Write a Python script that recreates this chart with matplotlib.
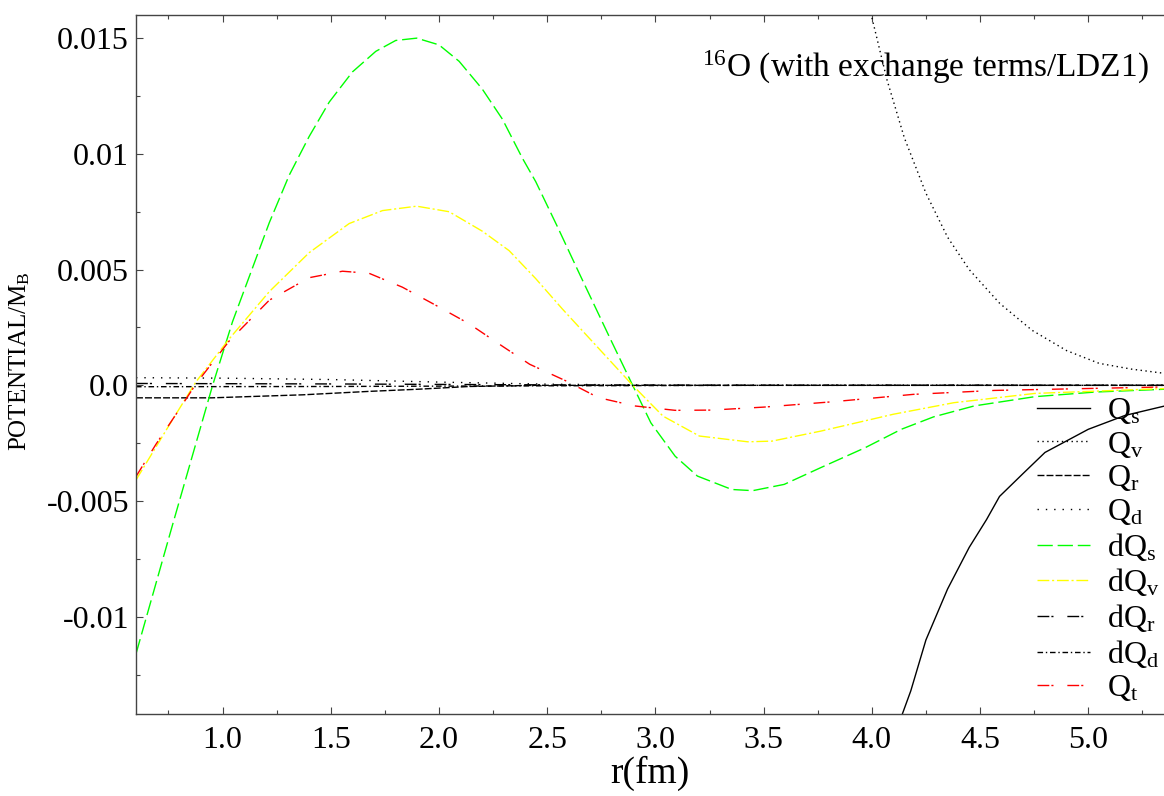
import matplotlib
matplotlib.use('Agg')
import matplotlib.pyplot as plt

plt.rcParams['font.family'] = ['Liberation Serif', 'DejaVu Serif']
plt.rcParams['mathtext.fontset'] = 'custom'
plt.rcParams['mathtext.rm'] = 'Liberation Serif'
plt.rcParams['mathtext.it'] = 'Liberation Serif:italic'

# values
dqs_x = [0.60, 0.77, 0.954, 1.046, 1.216, 1.308, 1.40, 1.493, 1.60, 1.708, 1.80, 1.897, 2.00, 2.093, 2.20,
         2.293, 2.385, 2.447, 2.55, 2.65, 2.792, 2.895, 2.979, 3.091, 3.194, 3.353, 3.45, 3.595, 3.763,
         3.968, 4.136, 4.286, 4.473, 4.753, 5.032, 5.35]
dqs_y = [-0.01160, -0.00599, 0.0, 0.00275, 0.00703, 0.00908, 0.01075, 0.01224, 0.01354, 0.01443, 0.01490,
         0.01500, 0.01471, 0.01400, 0.01280, 0.01150, 0.00982, 0.00880, 0.00680, 0.00480, 0.00200, 0.0,
         -0.00162, -0.00306, -0.00392, -0.00450, -0.00455, -0.00428, -0.00356, -0.00270, -0.00190,
         -0.00136, -0.00089, -0.00049, -0.00029, -0.00017]

dqv_x = [0.60, 0.754, 0.877, 1.031, 1.216, 1.40, 1.585, 1.739, 1.897, 2.047, 2.20, 2.324, 2.447, 2.57,
         2.699, 2.895, 3.035, 3.203, 3.427, 3.539, 3.763, 4.099, 4.379, 4.753, 5.35]
dqv_y = [-0.00409, -0.00171, 0.00015, 0.00201, 0.00405, 0.00573, 0.00699, 0.00755, 0.00774, 0.00750,
         0.00666, 0.00582, 0.00461, 0.00330, 0.00199, 0.0, -0.00133, -0.00219, -0.00244, -0.00241,
         -0.00198, -0.00125, -0.00075, -0.00035, -0.00014]

qt_x = [0.60, 0.692, 0.785, 0.877, 1.031, 1.216, 1.40, 1.554, 1.677, 1.831, 1.985, 2.139, 2.293, 2.419,
        2.587, 2.736, 2.904, 3.091, 3.259, 3.502, 3.819, 4.192, 4.566, 5.35]
qt_y = [-0.00394, -0.00255, -0.00125, 0.00006, 0.00192, 0.00368, 0.00465, 0.00493, 0.00484, 0.00424,
        0.00346, 0.00266, 0.00169, 0.00091, 0.00019, -0.00053, -0.00089, -0.00108, -0.00107, -0.00094,
        -0.00071, -0.00039, -0.00022, -0.00007]

qv_x = [3.90, 4.00, 4.07, 4.15, 4.25, 4.35, 4.45, 4.59, 4.74, 4.90, 5.05, 5.20, 5.35]
qv_y = [0.0195, 0.0159, 0.0132, 0.0107, 0.0083, 0.0064, 0.0050, 0.00355, 0.00238, 0.0015, 0.00095,
        0.0007, 0.00052]

qs_x = [4.10, 4.141, 4.18, 4.25, 4.35, 4.45, 4.53, 4.59, 4.70, 4.80, 5.00, 5.17, 5.35]
qs_y = [-0.0158, -0.0142, -0.0132, -0.0110, -0.0088, -0.0070, -0.0058, -0.0048, -0.0038, -0.0029,
        -0.0019, -0.0013, -0.0009]

qr_x = [0.60, 0.95, 1.37, 1.68, 1.90, 2.14, 2.45, 3.0, 5.35]
qr_y = [-0.00054, -0.00054, -0.00041, -0.00026, -0.00017, -0.00005, 0.0, 0.0, 0.0]

qd_x = [0.60, 1.0, 1.5, 2.0, 2.5, 3.0, 5.35]
qd_y = [0.00033, 0.00031, 0.00025, 0.00014, 0.00005, 0.00001, 0.0]

dqr_x = [0.60, 1.5, 2.5, 3.5, 5.35]
dqr_y = [0.00008, 0.00006, 0.00002, 0.0, 0.0]

dqd_x = [0.60, 1.5, 2.5, 3.5, 5.35]
dqd_y = [-0.00006, -0.00005, -0.00002, 0.0, 0.0]

xticks = [1.0, 1.5, 2.0, 2.5, 3.0, 3.5, 4.0, 4.5, 5.0]
xtick_labels = ['1.0', '1.5', '2.0', '2.5', '3.0', '3.5', '4.0', '4.5', '5.0']
yticks = [-0.01, -0.005, 0.0, 0.005, 0.01, 0.015]
ytick_labels = ['-0.01', '-0.005', '0.0', '0.005', '0.01', '0.015']

fig = plt.figure(figsize=(11.64, 7.96), dpi=100)
ax = fig.add_axes([136/1164, 1-714/796, 1-136/1164, (714-15)/796])

lw = 1.0
ax.plot(qs_x, qs_y, color='black', lw=lw, label=r'Q$_{\mathrm{s}}$')
ax.plot(qv_x, qv_y, color='black', lw=lw, linestyle=(0, (1, 2.5)), label=r'Q$_{\mathrm{v}}$')
ax.plot(qr_x, qr_y, color='black', lw=lw, linestyle=(0, (5, 1.5)), label=r'Q$_{\mathrm{r}}$')
ax.plot(qd_x, qd_y, color='black', lw=lw, linestyle=(0, (1, 5)), label=r'Q$_{\mathrm{d}}$')
ax.plot(dqs_x, dqs_y, color='#00ff00', lw=lw, linestyle=(0, (11, 3.5)), label=r'dQ$_{\mathrm{s}}$')
ax.plot(dqv_x, dqv_y, color='#ffff00', lw=lw, linestyle=(0, (8.5, 2, 1.5, 2)), label=r'dQ$_{\mathrm{v}}$')
ax.plot(dqr_x, dqr_y, color='black', lw=lw, linestyle=(0, (8.5, 1.5, 1.5, 10)), label=r'dQ$_{\mathrm{r}}$')
ax.plot(dqd_x, dqd_y, color='black', lw=lw, linestyle=(0, (4, 2, 1, 2)), label=r'dQ$_{\mathrm{d}}$')
ax.plot(qt_x, qt_y, color='#ff0000', lw=lw, linestyle=(0, (8.5, 1.5, 1.5, 10)), label=r'Q$_{\mathrm{t}}$')

ax.set_xlim(0.6, 5.35)
ax.set_ylim(-0.0142, 0.016)
ax.set_xticks(xticks)
ax.set_xticklabels(xtick_labels)
ax.set_xticks([0.75, 1.25, 1.75, 2.25, 2.75, 3.25, 3.75, 4.25, 4.75, 5.25], minor=True)
ax.set_yticks(yticks)
ax.set_yticklabels(ytick_labels)
ax.set_yticks([-0.0125, -0.0075, -0.0025, 0.0025, 0.0075, 0.0125], minor=True)
ax.tick_params(which='both', direction='in', top=True, right=False, labelsize=23, color='#444444')
ax.tick_params(which='major', length=5, width=0.8)
ax.tick_params(which='minor', length=3, width=0.8)
ax.tick_params(axis='x', pad=9)
ax.tick_params(axis='y', pad=5)
for s in ['left', 'bottom', 'top']:
    ax.spines[s].set_color('#444444')
    ax.spines[s].set_linewidth(1.0)
ax.spines['right'].set_visible(False)

ax.set_xlabel('r(fm)', fontsize=27, labelpad=0)
fig.text(20/1164, 1-361/796, r'POTENTIAL/M$_{\mathrm{B}}$', rotation=90, ha='center', va='center', fontsize=18)
ax.text(0.985, 0.925, r'$^{16}$O (with exchange terms/LDZ1)', transform=ax.transAxes,
        ha='right', va='center', fontsize=24)

ax.legend(loc='upper left', bbox_to_anchor=(1037/1164, 1-396/796), bbox_transform=fig.transFigure,
          frameon=False, fontsize=23, handlelength=1.66, handletextpad=0.53, labelspacing=0.115,
          borderpad=0, borderaxespad=0)

fig.savefig('out.png', dpi=100)
